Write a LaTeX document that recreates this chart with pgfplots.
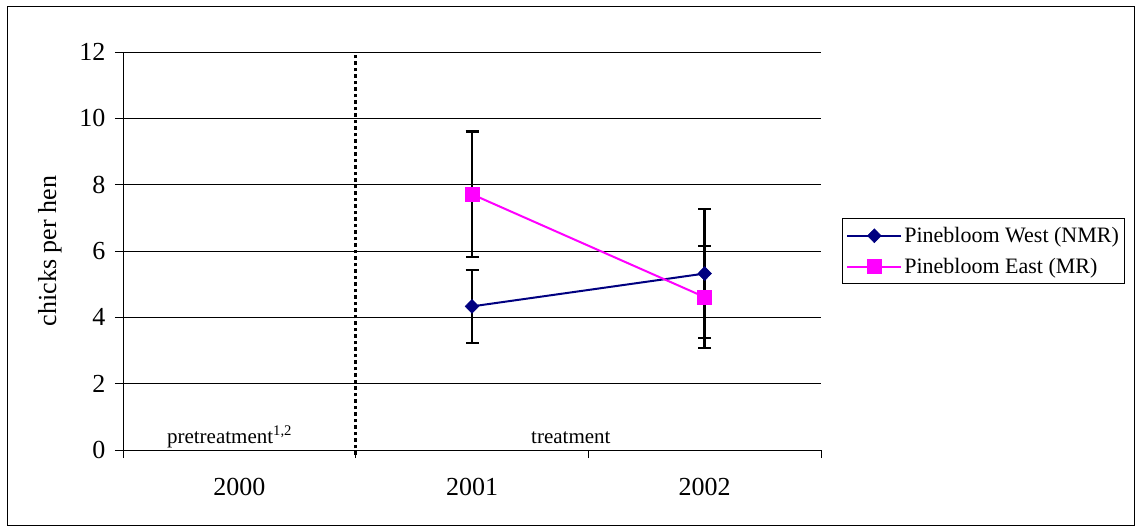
\documentclass[border=0pt]{standalone}
\usepackage{fontspec}
\setmainfont{Liberation Serif}
\usepackage{pgfplots}
\pgfplotsset{compat=1.18}
\definecolor{westc}{RGB}{0,0,128}
\definecolor{eastc}{RGB}{255,0,255}
\begin{document}
\begin{tikzpicture}
\useasboundingbox (-123pt,-81pt) rectangle (1013pt,450pt);
\draw[line width=1pt] (-115pt,-75pt) rectangle (1011pt,443pt);
\begin{axis}[
  at={(0pt,0pt)}, anchor=south west,
  scale only axis, width=698pt, height=398pt,
  xmin=-0.5, xmax=2.5, ymin=0, ymax=12,
  axis lines=left, axis line style={-, line width=0.8pt},
  xtick={0,1,2}, xticklabels={2000,2001,2002},
  minor xtick={-0.5,0.5,1.5,2.5},
  ytick={0,2,...,12},
  ymajorgrids, grid style={black, line width=0.8pt},
  tick align=outside,
  major tick length=8pt, minor tick length=8pt,
  major x tick style={draw=none},
  tick style={black, line width=0.8pt},
  /pgf/number format/assume math mode=true,
  yticklabel style={font=\fontsize{26}{29}\selectfont, xshift=-6pt},
  xticklabel style={font=\fontsize{26}{29}\selectfont, yshift=-17pt},
  ylabel={chicks per hen},
  ylabel style={at={(axis description cs:-0.1046,0.5)}, anchor=center, rotate=0, font=\fontsize{26}{29}\selectfont},
  legend style={at={(rel axis cs:1.030,0.583)}, anchor=north west,
    font=\fontsize{22}{25}\selectfont, draw=black, line width=0.8pt,
    inner xsep=4pt, inner ysep=7pt, row sep=10pt, cells={anchor=west}},
  legend image code/.code={\draw[mark repeat=2,mark phase=2,#1] plot coordinates {(0pt,0pt) (27pt,0pt) (54pt,0pt)};},
  clip=false,
]
\addplot[westc, line width=2pt, mark=diamond*, mark size=7pt,
  mark options={xscale=1.3, fill=westc, draw=westc, line width=0.5pt},
  error bars/.cd, y dir=both, y explicit,
  error bar style={black, line width=2.5pt},
  error mark options={rotate=90, black, mark size=6.5pt, line width=2.5pt}]
  coordinates {(1,4.33) +- (0,1.10) (2,5.32) +- (0,1.95)};
\addlegendentry{Pinebloom West (NMR)}
\addplot[eastc, line width=2pt, mark=square*, mark size=7pt,
  mark options={fill=eastc, draw=eastc, line width=0.5pt},
  error bars/.cd, y dir=both, y explicit,
  error bar style={black, line width=2.5pt},
  error mark options={rotate=90, black, mark size=6.5pt, line width=2.5pt}]
  coordinates {(1,7.71) +- (0,1.89) (2,4.61) +- (0,1.54)};
\addlegendentry{Pinebloom East (MR)}
\draw[black, line width=3.5pt, dash pattern=on 3.5pt off 3pt] (axis cs:0.5,-0.15) -- (axis cs:0.5,12);
\node[anchor=base, font=\fontsize{21}{24}\selectfont, inner sep=0pt] at (axis cs:-0.042,0.21) {pretreatment\textsuperscript{1,2}};
\node[anchor=base, font=\fontsize{21}{24}\selectfont, inner sep=0pt] at (axis cs:1.425,0.21) {treatment};
\end{axis}
\end{tikzpicture}
\end{document}
